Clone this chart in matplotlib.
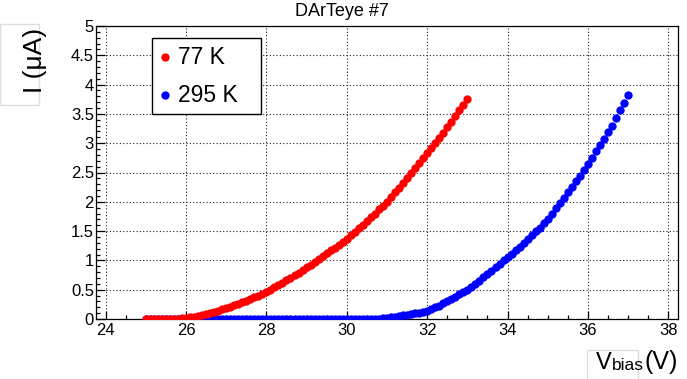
import numpy as np
import matplotlib
matplotlib.use("Agg")
import matplotlib.pyplot as plt
from matplotlib.patches import Rectangle
from matplotlib.ticker import MultipleLocator

plt.rcParams["font.family"] = ["Liberation Sans", "DejaVu Sans"]

# I-V curves of DArTeye #7, bias steps of 0.1 V
v_77 = np.round(np.arange(250, 331) * 0.1, 1)
i_77 = [
    0.0, 0.0, 0.0, 0.0, 0.0, 0.0, 0.0, 0.005, 0.007, 0.01,
    0.02, 0.03, 0.04, 0.05, 0.065, 0.08, 0.10, 0.12, 0.14, 0.165,
    0.19, 0.21, 0.235, 0.26, 0.285, 0.31, 0.34, 0.37, 0.40, 0.43,
    0.46, 0.50, 0.54, 0.58, 0.62, 0.66, 0.70, 0.745, 0.79, 0.835,
    0.88, 0.93, 0.975, 1.02, 1.07, 1.12, 1.17, 1.22, 1.27, 1.32,
    1.37, 1.43, 1.49, 1.55, 1.61, 1.68, 1.74, 1.80, 1.87, 1.93,
    2.00, 2.08, 2.16, 2.24, 2.32, 2.40, 2.49, 2.58, 2.66, 2.75,
    2.84, 2.92, 3.01, 3.09, 3.18, 3.27, 3.36, 3.46, 3.56, 3.66,
    3.76,
]

v_295 = np.round(np.arange(250, 371) * 0.1, 1)
i_295 = [
    0.0, 0.0, 0.0, 0.0, 0.0, 0.0, 0.0, 0.0, 0.0, 0.0,
    0.0, 0.0, 0.0, 0.0, 0.0, 0.0, 0.0, 0.0, 0.0, 0.0,
    0.0, 0.0, 0.0, 0.0, 0.0, 0.0, 0.0, 0.0, 0.0, 0.0,
    0.0, 0.0, 0.0, 0.0, 0.0, 0.0, 0.0, 0.0, 0.0, 0.0,
    0.0, 0.0, 0.0, 0.0, 0.0, 0.0, 0.0, 0.0, 0.0, 0.0,
    0.0, 0.0, 0.0, 0.0, 0.0, 0.0, 0.0, 0.0, 0.0, 0.01,
    0.02, 0.03, 0.04, 0.05, 0.06, 0.07, 0.08, 0.10, 0.11, 0.125,
    0.14, 0.17, 0.20, 0.23, 0.27, 0.31, 0.34, 0.38, 0.42, 0.46,
    0.50, 0.55, 0.60, 0.65, 0.71, 0.77, 0.82, 0.88, 0.94, 1.00,
    1.05, 1.11, 1.17, 1.23, 1.30, 1.36, 1.43, 1.50, 1.56, 1.64,
    1.71, 1.80, 1.89, 1.98, 2.07, 2.16, 2.25, 2.35, 2.44, 2.55,
    2.65, 2.74, 2.86, 2.97, 3.08, 3.19, 3.30, 3.43, 3.56, 3.69,
    3.83,
]

labels = ["77 K", "295 K"]
colors = ["red", "blue"]

W, H = 687, 379
fig = plt.figure(figsize=(W / 100, H / 100), dpi=100)


def px(x, y):
    # pixel position (from top-left) -> figure fraction
    return x / W, 1 - y / H


ax = fig.add_axes([96 / W, 1 - 319 / H, (677.7 - 96) / W, (319 - 26) / H])

ax.plot(v_295, i_295, "o", color=colors[1], ms=6, mew=0, zorder=3)
ax.plot(v_77, i_77, "o", color=colors[0], ms=6, mew=0, zorder=4)

ax.set_xlim(23.762, 38.232)
ax.set_ylim(0, 5)
ax.xaxis.set_major_locator(MultipleLocator(2))
ax.xaxis.set_minor_locator(MultipleLocator(0.5))
ax.yaxis.set_major_locator(MultipleLocator(0.5))
ax.yaxis.set_minor_locator(MultipleLocator(0.1))
ax.yaxis.set_major_formatter(plt.FuncFormatter(lambda v, p: f"{v:g}"))
ax.tick_params(which="both", direction="in", top=False, right=False,
               labelsize=12, width=0.9)
ax.tick_params(axis="x", which="major", length=6, pad=3)
ax.tick_params(axis="x", which="minor", length=3)
ax.tick_params(axis="y", which="major", length=6.5, pad=1.5)
ax.tick_params(axis="y", which="minor", length=3.2)
ax.grid(True, which="major", color="#222222", linestyle=(0, (1, 2)), linewidth=0.8)
ax.set_axisbelow(True)
for s in ax.spines.values():
    s.set_linewidth(0.9)

# title
fig.text(*px(342, 11), "DArTeye #7", fontsize=13, ha="center", va="center")

# legend box
x0, y0 = px(152, 114)
x1, y1 = px(261, 38)
fig.patches.append(Rectangle((x0, y0), x1 - x0, y1 - y0, transform=fig.transFigure,
                             facecolor="white", edgecolor="black", linewidth=1, zorder=5))
for k, (lab, col) in enumerate(zip(labels, colors)):
    yy = 57 + k * 38
    fig.lines.append(plt.Line2D([px(165, yy)[0]], [px(165, yy)[1]], marker="o", ms=6,
                                mew=0, color=col, transform=fig.transFigure, zorder=6))
    fig.text(*px(178, yy), lab, fontsize=16.5, ha="left", va="center", zorder=6)

# y axis title with its box
bx0, by0 = px(0, 105)
bx1, by1 = px(39, 24)
fig.patches.append(Rectangle((bx0, by0), bx1 - bx0, by1 - by0, transform=fig.transFigure,
                             facecolor="none", edgecolor="#dddddd", linewidth=1))
fig.text(*px(35, 60), "I (μA)", fontsize=19, rotation=90, ha="center", va="center")

# x axis title with its box
cx0, cy0 = px(587, 380)
cx1, cy1 = px(638, 350)
fig.patches.append(Rectangle((cx0, cy0), cx1 - cx0, cy1 - cy0, transform=fig.transFigure,
                             facecolor="none", edgecolor="#dddddd", linewidth=1))
t1 = fig.text(*px(596, 369), "V", fontsize=17, ha="left", va="baseline")
fig.canvas.draw()
bb = t1.get_window_extent()
fig.text(bb.x1 / W, px(0, 370)[1], "bias", fontsize=12.5, ha="left", va="baseline")
fig.text(*px(678, 369), "(V)", fontsize=18, ha="right", va="baseline")

fig.savefig("out.png", dpi=100)
